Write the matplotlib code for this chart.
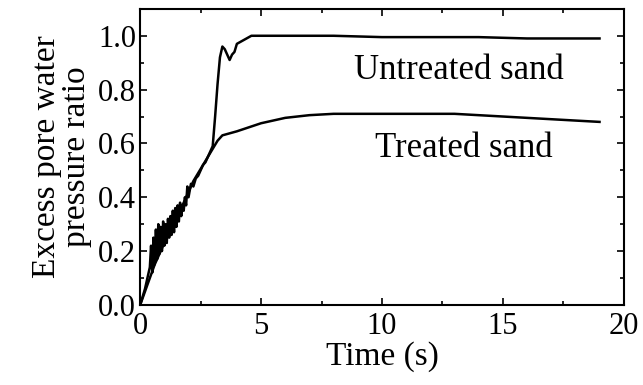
import numpy as np
import matplotlib.pyplot as plt
from matplotlib.ticker import MultipleLocator

plt.rcParams['font.family'] = ['Liberation Serif', 'DejaVu Serif']

# untreated sand: time (s), excess pore water pressure ratio
t_untreated = [0, 0.1, 0.2, 0.3, 0.4, 0.45, 0.5, 0.55, 0.6, 0.65, 0.7, 0.75, 0.8, 0.85, 0.9, 0.95,
               1.0, 1.05, 1.1, 1.15, 1.2, 1.25, 1.3, 1.35, 1.4, 1.45, 1.5, 1.55, 1.6, 1.65, 1.7, 1.75,
               1.8, 1.85, 1.9, 1.95, 2.0, 2.1, 2.2, 2.3, 2.4, 2.5, 2.6, 2.7, 2.8, 2.9, 3.0, 3.1, 3.2,
               3.3, 3.4, 3.5, 3.6, 3.7, 3.8, 3.9, 4.0, 4.2, 4.4, 4.6, 5.0, 6, 8, 10, 12, 14, 16, 18, 19]
r_untreated = [0, 0.03, 0.06, 0.10, 0.14, 0.22, 0.12, 0.25, 0.15, 0.28, 0.17, 0.30, 0.19, 0.29, 0.20, 0.31,
               0.22, 0.30, 0.23, 0.32, 0.25, 0.33, 0.26, 0.35, 0.27, 0.36, 0.29, 0.37, 0.31, 0.38, 0.33, 0.37,
               0.35, 0.40, 0.37, 0.44, 0.40, 0.45, 0.44, 0.47, 0.48, 0.50, 0.52, 0.53, 0.55, 0.57, 0.59, 0.70, 0.82,
               0.92, 0.96, 0.95, 0.93, 0.91, 0.93, 0.94, 0.97, 0.98, 0.99, 1.0, 1.0, 1.0, 1.0, 0.995, 0.995, 0.995, 0.99, 0.99, 0.99]

# treated sand
t_treated = [0, 0.2, 0.4, 0.6, 0.8, 1.0, 1.2, 1.4, 1.6, 1.8, 2.0, 2.2, 2.4, 2.6, 2.8, 3.0, 3.2, 3.4, 3.6,
             4.0, 4.5, 5.0, 5.5, 6.0, 7, 8, 10, 12, 13, 14, 15, 16, 17, 18, 19]
r_treated = [0, 0.05, 0.10, 0.15, 0.19, 0.23, 0.27, 0.30, 0.34, 0.38, 0.42, 0.46, 0.49, 0.52, 0.55, 0.58, 0.61, 0.63, 0.635,
             0.645, 0.66, 0.675, 0.685, 0.695, 0.705, 0.71, 0.71, 0.71, 0.71, 0.705, 0.70, 0.695, 0.69, 0.685, 0.68]

fig = plt.figure(figsize=(6.43, 3.85), dpi=100)
ax = fig.add_axes([0.218, 0.208, 0.752, 0.769])

ax.plot(t_untreated, r_untreated, color='black', lw=1.8)
ax.plot(t_treated, r_treated, color='black', lw=1.8)

ax.text(13.2, 0.87, 'Untreated sand', fontsize=25, ha='center', va='center')
ax.text(13.4, 0.58, 'Treated sand', fontsize=25, ha='center', va='center')

ax.set_xlim(0, 20)
ax.set_ylim(0, 1.1)
ax.xaxis.set_major_locator(MultipleLocator(5))
ax.xaxis.set_minor_locator(MultipleLocator(2.5))
ax.yaxis.set_major_locator(MultipleLocator(0.2))
ax.yaxis.set_minor_locator(MultipleLocator(0.1))
ax.yaxis.set_major_formatter(lambda v, p: f'{v:.1f}')
ax.tick_params(which='both', direction='in', top=True, right=True, labelsize=22, width=1.2)
ax.tick_params(which='major', length=5)
ax.tick_params(which='minor', length=3)
ax.tick_params(axis='x', pad=5)
ax.tick_params(axis='y', pad=3)
for s in ax.spines.values():
    s.set_linewidth(1.5)

ax.set_xlabel('Time (s)', fontsize=24, labelpad=0)
ax.set_ylabel('Excess pore water\npressure ratio', fontsize=24, labelpad=4, linespacing=1.0)

fig.savefig('out.png')
